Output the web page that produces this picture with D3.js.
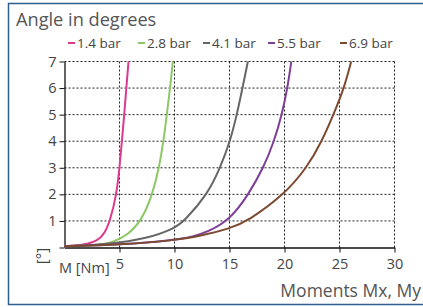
<!DOCTYPE html>
<html>
<head>
<meta charset="utf-8">
<script src="https://cdn.jsdelivr.net/npm/d3@7"></script>
<style>
  body { margin: 0; background: #fff; }
  svg text { font-family: "Open Sans", "Noto Sans", sans-serif; }
</style>
</head>
<body>
<svg id="chart" width="423" height="307"></svg>
<script>
// series names + colours
const seriesNames = ['1.4 bar', '2.8 bar', '4.1 bar', '5.5 bar', '6.9 bar']
const seriesColors = ['#dc3a8e', '#8dc865', '#666666', '#7d3f96', '#7b4a30']

// moments [Nm] and angle [deg], one array per series
const moment14 = [0, 1.8, 3.0, 3.6, 4.15, 4.73, 5.0, 5.22, 5.43, 5.62, 5.82]
const angle14  = [0.05, 0.1, 0.25, 0.5, 1, 2, 3, 4, 5, 6, 7]
const moment28 = [0, 3.0, 4.5, 5.7, 7.0, 8.0, 8.6, 9.0, 9.3, 9.6, 9.85]
const angle28  = [0.05, 0.08, 0.21, 0.46, 1, 2, 3, 4, 5, 6, 7]
const moment41 = [0, 4.0, 7.55, 10.0, 10.9, 13.0, 14.15, 15.06, 15.67, 16.18, 16.67]
const angle41  = [0.05, 0.12, 0.34, 0.72, 1, 2, 3, 4, 5, 6, 7]
const moment55 = [0, 5.0, 10.0, 12.33, 15.0, 16.73, 18.09, 19.06, 19.76, 20.27, 20.62]
const angle55  = [0.05, 0.1, 0.27, 0.45, 1, 2, 3, 4, 5, 6, 7]
const moment69 = [0, 5.0, 10.0, 12.33, 15.0, 16.7, 20.0, 22.03, 23.4, 24.45, 25.42, 26.06]
const angle69  = [0.05, 0.1, 0.27, 0.43, 0.71, 1, 2, 3, 4, 5, 6, 7]

const xTicks = [5, 10, 15, 20, 25, 30]
const yTicks = [1, 2, 3, 4, 5, 6, 7]

const seriesMoments = [moment14, moment28, moment41, moment55, moment69]
const seriesAngles = [angle14, angle28, angle41, angle55, angle69]

const draw = () => {
    let svg = d3.select('#chart')

    // frame
    svg.append('path')
        .attr('d', 'M430,3.5 H8.5 V304.5 H430')
        .attr('fill', 'none')
        .attr('stroke', '#2d5f8e')
        .attr('stroke-width', 1.5)

    let x = d3.scaleLinear().domain([0, 30]).range([64.5, 394.5])
    let y = d3.scaleLinear().domain([0, 7]).range([247.5, 61.5])

    // grid
    let grid = svg.append('g')
        .attr('stroke', '#222')
        .attr('stroke-width', 1)
        .attr('stroke-dasharray', '2,2')
    grid.selectAll('.gx').data(xTicks).enter().append('line')
        .attr('x1', d => x(d)).attr('x2', d => x(d))
        .attr('y1', y(0)).attr('y2', y(7))
    grid.selectAll('.gy').data(yTicks).enter().append('line')
        .attr('x1', x(0)).attr('x2', x(30))
        .attr('y1', d => y(d)).attr('y2', d => y(d))

    // axes
    let xAxis = svg.append('g')
        .attr('transform', 'translate(0,' + y(0) + ')')
        .call(d3.axisBottom(x).tickValues(xTicks).tickSize(5).tickSizeOuter(0).tickPadding(6))
    let yAxis = svg.append('g')
        .attr('transform', 'translate(' + x(0) + ',0)')
        .call(d3.axisLeft(y).tickValues([0].concat(yTicks)).tickFormat(d => d === 0 ? '' : d)
            .tickSize(5).tickSizeOuter(0).tickPadding(3))

    for (let ax of [xAxis, yAxis]) {
        ax.select('.domain').attr('stroke', '#111').attr('stroke-width', 1.3)
        ax.selectAll('.tick line').attr('stroke', '#111')
        ax.selectAll('text')
            .style('font-size', '14.5px')
            .attr('fill', '#444')
    }

    // lines
    let line = d3.line()
        .x(d => x(d[0]))
        .y(d => y(d[1]))
        .curve(d3.curveBasis)

    seriesNames.forEach((name, i) => {
        let pts = seriesMoments[i].map((m, j) => [m, seriesAngles[i][j]])
        svg.append('path')
            .datum(pts)
            .attr('d', line)
            .attr('fill', 'none')
            .attr('stroke', seriesColors[i])
            .attr('stroke-width', 2)
    })

    // title + axis labels
    svg.append('text')
        .attr('x', 16).attr('y', 26)
        .attr('fill', '#555')
        .style('font-size', '18.2px')
        .text('Angle in degrees')

    svg.append('text')
        .attr('x', 59).attr('y', 273)
        .attr('fill', '#444')
        .style('font-size', '14.5px')
        .text('M [Nm]')

    svg.append('text')
        .attr('transform', 'translate(47,256) rotate(-90)')
        .attr('text-anchor', 'middle')
        .attr('fill', '#444')
        .style('font-size', '15px')
        .text('[°]')

    svg.append('text')
        .attr('x', 421).attr('y', 297)
        .attr('text-anchor', 'end')
        .attr('fill', '#555')
        .style('font-size', '17.5px')
        .text('Moments Mx, My')

    // legend
    let legendX = [68, 138, 203, 268, 340]
    let legend = svg.selectAll('.legend')
        .data(seriesNames)
        .enter()
        .append('g')
        .attr('transform', (d, i) => 'translate(' + legendX[i] + ',43)')
    legend.append('line')
        .attr('x1', 0).attr('x2', 7)
        .attr('stroke', (d, i) => seriesColors[i])
        .attr('stroke-width', 2)
    legend.append('text')
        .attr('x', 9).attr('y', 4.5)
        .attr('fill', '#444')
        .style('font-size', '13.5px')
        .text(d => d)
}

draw()
</script>
</body>
</html>
